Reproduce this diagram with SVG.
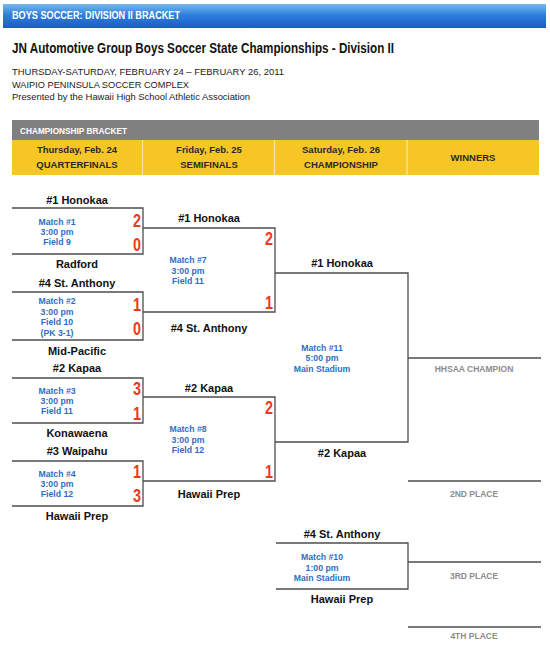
<svg xmlns="http://www.w3.org/2000/svg" width="550" height="650" viewBox="0 0 550 650">
<defs>
<linearGradient id="blue" x1="0" y1="0" x2="0" y2="1">
<stop offset="0" stop-color="#7ab8f2"/>
<stop offset="0.45" stop-color="#2f7fdc"/>
<stop offset="1" stop-color="#1a5cc4"/>
</linearGradient>
<style>
text{font-family:"Liberation Sans",Arial,Helvetica,sans-serif}
.team{font-weight:bold;font-size:11px;fill:#111;text-anchor:middle}
.info{font-weight:bold;font-size:8.7px;fill:#2f6dc4;text-anchor:middle}
.score{font-weight:bold;font-size:18px;fill:#ee3a1c;text-anchor:end}
.ln{stroke:#4d4d4d;stroke-width:1.3;fill:none}
.place{font-weight:bold;font-size:8.5px;fill:#8c8c8c;text-anchor:middle}
.hdr{font-weight:bold;font-size:9.5px;fill:#2a2a2a;text-anchor:middle}
.sub{font-size:9.5px;fill:#222}
</style>
</defs>
<rect width="550" height="650" fill="#fff"/>

<g id="topbar">
<rect x="3" y="4" width="543" height="24" fill="url(#blue)"/>
<text x="12" y="18.5" font-size="10" font-weight="bold" fill="#fff" textLength="168" lengthAdjust="spacingAndGlyphs">BOYS SOCCER: DIVISION II BRACKET</text>
</g>

<g id="title">
<text x="12" y="53" font-size="14.5" font-weight="bold" fill="#111" textLength="382" lengthAdjust="spacingAndGlyphs">JN Automotive Group Boys Soccer State Championships - Division II</text>
<text class="sub" x="12" y="75" textLength="272" lengthAdjust="spacingAndGlyphs">THURSDAY-SATURDAY, FEBRUARY 24 – FEBRUARY 26, 2011</text>
<text class="sub" x="12" y="87.5" textLength="177" lengthAdjust="spacingAndGlyphs">WAIPIO PENINSULA SOCCER COMPLEX</text>
<text class="sub" x="12" y="100" textLength="238" lengthAdjust="spacingAndGlyphs">Presented by the Hawaii High School Athletic Association</text>
</g>

<g id="header">
<rect x="12" y="120" width="527" height="20" fill="#808080"/>
<text x="20" y="133.5" font-size="9" font-weight="bold" fill="#fff" textLength="107" lengthAdjust="spacingAndGlyphs">CHAMPIONSHIP BRACKET</text>
<rect x="12" y="140" width="527" height="35" fill="#f6c624"/>
<g stroke="#fbe9a8" stroke-width="1.2">
<line x1="142.5" y1="140" x2="142.5" y2="175"/>
<line x1="274.5" y1="140" x2="274.5" y2="175"/>
<line x1="407" y1="140" x2="407" y2="175"/>
</g>
<text class="hdr" x="77" y="153">Thursday, Feb. 24</text>
<text class="hdr" x="77" y="168" font-size="8.5">QUARTERFINALS</text>
<text class="hdr" x="209" y="153">Friday, Feb. 25</text>
<text class="hdr" x="209" y="168" font-size="8.5">SEMIFINALS</text>
<text class="hdr" x="341" y="153">Saturday, Feb. 26</text>
<text class="hdr" x="341" y="168" font-size="8.5">CHAMPIONSHIP</text>
<text class="hdr" x="473" y="161">WINNERS</text>
</g>

<g id="connectors">
<path class="ln" d="M12,208 H143 V254 H12"/>
<path class="ln" d="M12,292 H143 V340 H12"/>
<path class="ln" d="M12,378 H143 V423 H12"/>
<path class="ln" d="M12,461 H143 V506 H12"/>
<path class="ln" d="M143,228 H275 V312 H143"/>
<path class="ln" d="M143,397 H275 V481 H143"/>
<path class="ln" d="M275,273 H408 V442 H275"/>
<path class="ln" d="M276,543 H408 V589 H276"/>
<path class="ln" d="M408,358 H541"/>
<path class="ln" d="M408,481 H541"/>
<path class="ln" d="M408,562 H541"/>
<path class="ln" d="M408,627 H541"/>
</g>

<g id="match1">
<text class="team" x="77" y="204">#1 Honokaa</text>
<text class="info" x="57" y="225">Match #1</text>
<text class="info" x="57" y="235">3:00 pm</text>
<text class="info" x="57" y="245">Field 9</text>
<text class="score" x="141" y="227" textLength="8" lengthAdjust="spacingAndGlyphs">2</text>
<text class="score" x="141" y="251" textLength="8" lengthAdjust="spacingAndGlyphs">0</text>
<text class="team" x="77" y="268">Radford</text>
</g>

<g id="match2">
<text class="team" x="77" y="287">#4 St. Anthony</text>
<text class="info" x="57" y="304">Match #2</text>
<text class="info" x="57" y="315">3:00 pm</text>
<text class="info" x="57" y="325">Field 10</text>
<text class="info" x="57" y="336">(PK 3-1)</text>
<text class="score" x="141" y="311" textLength="8" lengthAdjust="spacingAndGlyphs">1</text>
<text class="score" x="141" y="335" textLength="8" lengthAdjust="spacingAndGlyphs">0</text>
<text class="team" x="77" y="355">Mid-Pacific</text>
</g>

<g id="match3">
<text class="team" x="77" y="372">#2 Kapaa</text>
<text class="info" x="57" y="394">Match #3</text>
<text class="info" x="57" y="404">3:00 pm</text>
<text class="info" x="57" y="414">Field 11</text>
<text class="score" x="141" y="395" textLength="8" lengthAdjust="spacingAndGlyphs">3</text>
<text class="score" x="141" y="420" textLength="8" lengthAdjust="spacingAndGlyphs">1</text>
<text class="team" x="77" y="437">Konawaena</text>
</g>

<g id="match4">
<text class="team" x="77" y="455">#3 Waipahu</text>
<text class="info" x="57" y="477">Match #4</text>
<text class="info" x="57" y="487">3:00 pm</text>
<text class="info" x="57" y="497">Field 12</text>
<text class="score" x="141" y="478" textLength="8" lengthAdjust="spacingAndGlyphs">1</text>
<text class="score" x="141" y="502" textLength="8" lengthAdjust="spacingAndGlyphs">3</text>
<text class="team" x="77" y="520">Hawaii Prep</text>
</g>

<g id="match7">
<text class="team" x="209" y="222">#1 Honokaa</text>
<text class="info" x="188" y="263">Match #7</text>
<text class="info" x="188" y="274">3:00 pm</text>
<text class="info" x="188" y="284">Field 11</text>
<text class="score" x="273" y="245" textLength="8" lengthAdjust="spacingAndGlyphs">2</text>
<text class="score" x="273" y="309" textLength="8" lengthAdjust="spacingAndGlyphs">1</text>
<text class="team" x="209" y="332">#4 St. Anthony</text>
</g>

<g id="match8">
<text class="team" x="209" y="392">#2 Kapaa</text>
<text class="info" x="188" y="432">Match #8</text>
<text class="info" x="188" y="443">3:00 pm</text>
<text class="info" x="188" y="453">Field 12</text>
<text class="score" x="273" y="414" textLength="8" lengthAdjust="spacingAndGlyphs">2</text>
<text class="score" x="273" y="478" textLength="8" lengthAdjust="spacingAndGlyphs">1</text>
<text class="team" x="209" y="498">Hawaii Prep</text>
</g>

<g id="match11">
<text class="team" x="342" y="267">#1 Honokaa</text>
<text class="info" x="322" y="351">Match #11</text>
<text class="info" x="322" y="361">5:00 pm</text>
<text class="info" x="322" y="372">Main Stadium</text>
<text class="team" x="342" y="457">#2 Kapaa</text>
</g>

<g id="match10">
<text class="team" x="342" y="538">#4 St. Anthony</text>
<text class="info" x="322" y="560">Match #10</text>
<text class="info" x="322" y="571">1:00 pm</text>
<text class="info" x="322" y="581">Main Stadium</text>
<text class="team" x="342" y="603">Hawaii Prep</text>
</g>

<g id="places">
<text class="place" x="474" y="372">HHSAA CHAMPION</text>
<text class="place" x="474" y="497">2ND PLACE</text>
<text class="place" x="474" y="579">3RD PLACE</text>
<text class="place" x="474" y="639">4TH PLACE</text>
</g>
</svg>
